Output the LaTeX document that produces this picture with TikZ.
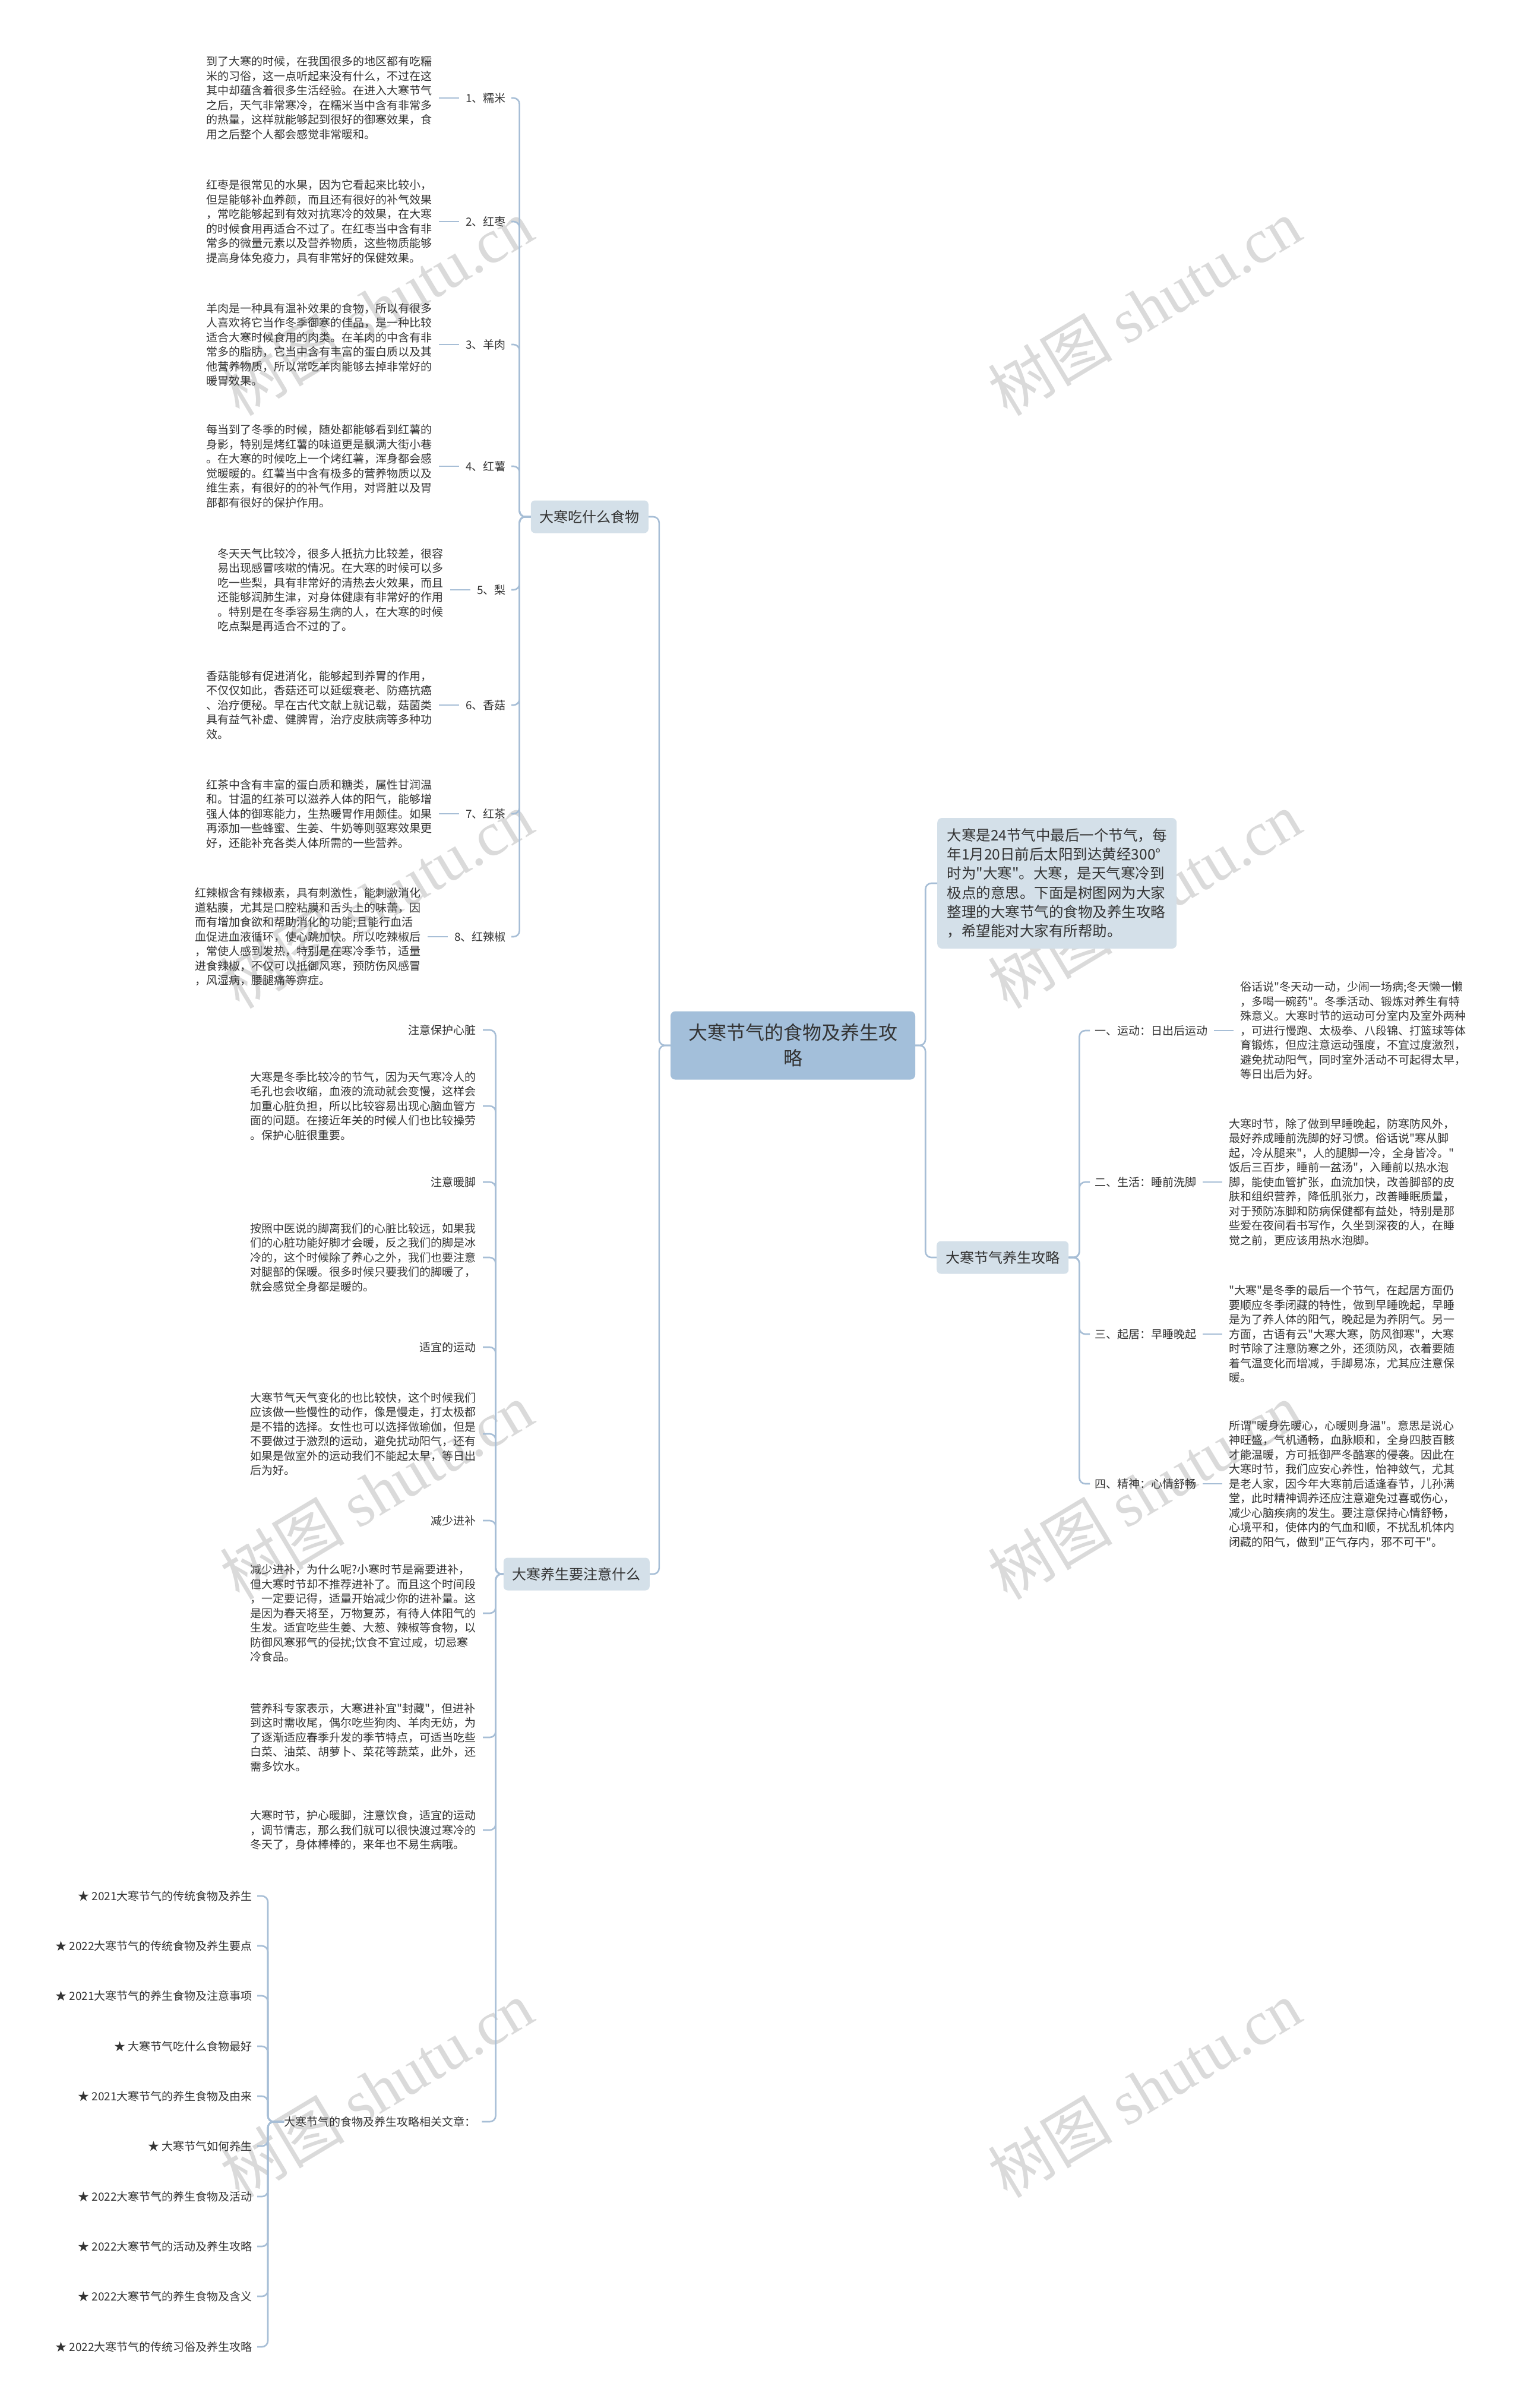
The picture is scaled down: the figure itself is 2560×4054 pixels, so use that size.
\documentclass[tikz,border=0pt]{standalone}
\usepackage{fontspec}
\setmainfont{Noto Sans CJK SC}[Ligatures=TeXOff]
\newfontfamily\wmlatin{Liberation Serif}
\usetikzlibrary{positioning}
\definecolor{linecol}{HTML}{A7BED6}
\definecolor{rootfill}{HTML}{A3BFDA}
\definecolor{boxfill}{HTML}{D4E0E9}
\definecolor{inkcol}{HTML}{333333}
\definecolor{wmcol}{HTML}{DADADA}

\begin{document}
\begin{tikzpicture}[x=1pt, y=-1pt,
    leaf/.style={inner sep=0pt, text=inkcol, align=left, font=\fontsize{19}{24.5}\selectfont},
    topic/.style={fill=boxfill, rounded corners=7pt, inner xsep=15pt, minimum height=55pt, text=inkcol, font=\fontsize{24}{30}\selectfont},
    link/.style={draw=linecol, line width=2.6pt, rounded corners=10pt},
    tie/.style={draw=linecol, line width=2.6pt, shorten <=11pt, shorten >=11pt},
    wm/.style={text=wmcol, rotate=31, font=\fontsize{105}{105}\selectfont}]
    % Page
    \fill[white] (0,0) rectangle (2560,4054);
    \useasboundingbox (0,0) rectangle (2560,4054);
    % Watermarks
    \node[wm] (wm1) at (634,517) {树图 {\wmlatin shutu.cn}};
    \node[wm] (wm2) at (1927,517) {树图 {\wmlatin shutu.cn}};
    \node[wm] (wm3) at (634,1515) {树图 {\wmlatin shutu.cn}};
    \node[wm] (wm4) at (1927,1515) {树图 {\wmlatin shutu.cn}};
    \node[wm] (wm5) at (634,2510) {树图 {\wmlatin shutu.cn}};
    \node[wm] (wm6) at (1927,2510) {树图 {\wmlatin shutu.cn}};
    \node[wm] (wm7) at (634,3517) {树图 {\wmlatin shutu.cn}};
    \node[wm] (wm8) at (1927,3517) {树图 {\wmlatin shutu.cn}};

    % Root
    \node[fill=rootfill, rounded corners=8pt, minimum width=412pt, minimum height=115pt, align=center, text=inkcol, font=\fontsize{32}{43}\selectfont] (root) at (1335,1760) {大寒节气的食物及养生攻\\略};

    % Intro
    \node[fill=boxfill, rounded corners=8pt, anchor=west, minimum width=403pt, minimum height=220pt, align=left, text=inkcol, font=\fontsize{24.5}{32.3}\selectfont] (intro) at (1578,1487) {大寒是24节气中最后一个节气，每\\年1月20日前后太阳到达黄经300°\\时为"大寒"。大寒，是天气寒冷到\\极点的意思。下面是树图网为大家\\整理的大寒节气的食物及养生攻略\\，希望能对大家有所帮助。};

    % Foods
    \node[topic, anchor=east] (food) at (1092,870) {大寒吃什么食物};
    \node[leaf, anchor=east] (f1) at (852,165) {1、糯米};
    \node[leaf, left=56pt of f1] (f1d) {到了大寒的时候，在我国很多的地区都有吃糯\\米的习俗，这一点听起来没有什么，不过在这\\其中却蕴含着很多生活经验。在进入大寒节气\\之后，天气非常寒冷，在糯米当中含有非常多\\的热量，这样就能够起到很好的御寒效果，食\\用之后整个人都会感觉非常暖和。};
    \node[leaf, anchor=east] (f2) at (852,373) {2、红枣};
    \node[leaf, left=56pt of f2] (f2d) {红枣是很常见的水果，因为它看起来比较小，\\但是能够补血养颜，而且还有很好的补气效果\\，常吃能够起到有效对抗寒冷的效果，在大寒\\的时候食用再适合不过了。在红枣当中含有非\\常多的微量元素以及营养物质，这些物质能够\\提高身体免疫力，具有非常好的保健效果。};
    \node[leaf, anchor=east] (f3) at (852,580) {3、羊肉};
    \node[leaf, left=56pt of f3] (f3d) {羊肉是一种具有温补效果的食物，所以有很多\\人喜欢将它当作冬季御寒的佳品，是一种比较\\适合大寒时候食用的肉类。在羊肉的中含有非\\常多的脂肪，它当中含有丰富的蛋白质以及其\\他营养物质，所以常吃羊肉能够去掉非常好的\\暖胃效果。};
    \node[leaf, anchor=east] (f4) at (852,785) {4、红薯};
    \node[leaf, left=56pt of f4] (f4d) {每当到了冬季的时候，随处都能够看到红薯的\\身影，特别是烤红薯的味道更是飘满大街小巷\\。在大寒的时候吃上一个烤红薯，浑身都会感\\觉暖暖的。红薯当中含有极多的营养物质以及\\维生素，有很好的的补气作用，对肾脏以及胃\\部都有很好的保护作用。};
    \node[leaf, anchor=east] (f5) at (852,993) {5、梨};
    \node[leaf, left=56pt of f5] (f5d) {冬天天气比较冷，很多人抵抗力比较差，很容\\易出现感冒咳嗽的情况。在大寒的时候可以多\\吃一些梨，具有非常好的清热去火效果，而且\\还能够润肺生津，对身体健康有非常好的作用\\。特别是在冬季容易生病的人，在大寒的时候\\吃点梨是再适合不过的了。};
    \node[leaf, anchor=east] (f6) at (852,1187) {6、香菇};
    \node[leaf, left=56pt of f6] (f6d) {香菇能够有促进消化，能够起到养胃的作用，\\不仅仅如此，香菇还可以延缓衰老、防癌抗癌\\、治疗便秘。早在古代文献上就记载，菇菌类\\具有益气补虚、健脾胃，治疗皮肤病等多种功\\效。};
    \node[leaf, anchor=east] (f7) at (852,1370) {7、红茶};
    \node[leaf, left=56pt of f7] (f7d) {红茶中含有丰富的蛋白质和糖类，属性甘润温\\和。甘温的红茶可以滋养人体的阳气，能够增\\强人体的御寒能力，生热暖胃作用颇佳。如果\\再添加一些蜂蜜、生姜、牛奶等则驱寒效果更\\好，还能补充各类人体所需的一些营养。};
    \node[leaf, anchor=east] (f8) at (852,1577) {8、红辣椒};
    \node[leaf, left=56pt of f8] (f8d) {红辣椒含有辣椒素，具有刺激性，能刺激消化\\道粘膜，尤其是口腔粘膜和舌头上的味蕾，因\\而有增加食欲和帮助消化的功能;且能行血活\\血促进血液循环，使心跳加快。所以吃辣椒后\\，常使人感到发热，特别是在寒冷季节，适量\\进食辣椒，不仅可以抵御风寒，预防伤风感冒\\，风湿病，腰腿痛等痹症。};

    % Cautions
    \node[topic, anchor=east] (attn) at (1094,2650) {大寒养生要注意什么};
    \node[leaf, anchor=east] (a1) at (802,1734) {注意保护心脏};
    \node[leaf, anchor=east] (a2) at (802,1862) {大寒是冬季比较冷的节气，因为天气寒冷人的\\毛孔也会收缩，血液的流动就会变慢，这样会\\加重心脏负担，所以比较容易出现心脑血管方\\面的问题。在接近年关的时候人们也比较操劳\\。保护心脏很重要。};
    \node[leaf, anchor=east] (a3) at (802,1990) {注意暖脚};
    \node[leaf, anchor=east] (a4) at (802,2117) {按照中医说的脚离我们的心脏比较远，如果我\\们的心脏功能好脚才会暖，反之我们的脚是冰\\冷的，这个时候除了养心之外，我们也要注意\\对腿部的保暖。很多时候只要我们的脚暖了，\\就会感觉全身都是暖的。};
    \node[leaf, anchor=east] (a5) at (802,2268) {适宜的运动};
    \node[leaf, anchor=east] (a6) at (802,2414) {大寒节气天气变化的也比较快，这个时候我们\\应该做一些慢性的动作，像是慢走，打太极都\\是不错的选择。女性也可以选择做瑜伽，但是\\不要做过于激烈的运动，避免扰动阳气，还有\\如果是做室外的运动我们不能起太早，等日出\\后为好。};
    \node[leaf, anchor=east] (a7) at (802,2560) {减少进补};
    \node[leaf, anchor=east] (a8) at (802,2716) {减少进补，为什么呢?小寒时节是需要进补，\\但大寒时节却不推荐进补了。而且这个时间段\\，一定要记得，适量开始减少你的进补量。这\\是因为春天将至，万物复苏，有待人体阳气的\\生发。适宜吃些生姜、大葱、辣椒等食物，以\\防御风寒邪气的侵扰;饮食不宜过咸，切忌寒\\冷食品。};
    \node[leaf, anchor=east] (a9) at (802,2925) {营养科专家表示，大寒进补宜"封藏"，但进补\\到这时需收尾，偶尔吃些狗肉、羊肉无妨，为\\了逐渐适应春季升发的季节特点，可适当吃些\\白菜、油菜、胡萝卜、菜花等蔬菜，此外，还\\需多饮水。};
    \node[leaf, anchor=east] (a10) at (802,3081) {大寒时节，护心暖脚，注意饮食，适宜的运动\\，调节情志，那么我们就可以很快渡过寒冷的\\冬天了，身体棒棒的，来年也不易生病哦。};

    % Related articles
    \node[leaf, anchor=west] (rel) at (478,3572) {大寒节气的食物及养生攻略相关文章：};
    \node[leaf, anchor=east] (r1) at (425,3192) {★ 2021大寒节气的传统食物及养生};
    \node[leaf, anchor=east] (r2) at (425,3276) {★ 2022大寒节气的传统食物及养生要点};
    \node[leaf, anchor=east] (r3) at (425,3360) {★ 2021大寒节气的养生食物及注意事项};
    \node[leaf, anchor=east] (r4) at (425,3445) {★ 大寒节气吃什么食物最好};
    \node[leaf, anchor=east] (r5) at (425,3529) {★ 2021大寒节气的养生食物及由来};
    \node[leaf, anchor=east] (r6) at (425,3613) {★ 大寒节气如何养生};
    \node[leaf, anchor=east] (r7) at (425,3698) {★ 2022大寒节气的养生食物及活动};
    \node[leaf, anchor=east] (r8) at (425,3782) {★ 2022大寒节气的活动及养生攻略};
    \node[leaf, anchor=east] (r9) at (425,3866) {★ 2022大寒节气的养生食物及含义};
    \node[leaf, anchor=east] (r10) at (425,3951) {★ 2022大寒节气的传统习俗及养生攻略};

    % Tips
    \node[topic, anchor=west] (tips) at (1577,2117) {大寒节气养生攻略};
    \node[leaf, anchor=west] (s1) at (1843,1735) {一、运动：日出后运动};
    \node[leaf, right=55pt of s1] (s1d) {俗话说"冬天动一动，少闹一场病;冬天懒一懒\\，多喝一碗药"。冬季活动、锻炼对养生有特\\殊意义。大寒时节的运动可分室内及室外两种\\，可进行慢跑、太极拳、八段锦、打篮球等体\\育锻炼，但应注意运动强度，不宜过度激烈，\\避免扰动阳气，同时室外活动不可起得太早，\\等日出后为好。};
    \node[leaf, anchor=west] (s2) at (1843,1990) {二、生活：睡前洗脚};
    \node[leaf, right=55pt of s2] (s2d) {大寒时节，除了做到早睡晚起，防寒防风外，\\最好养成睡前洗脚的好习惯。俗话说"寒从脚\\起，冷从腿来"，人的腿脚一冷，全身皆冷。"\\饭后三百步，睡前一盆汤"，入睡前以热水泡\\脚，能使血管扩张，血流加快，改善脚部的皮\\肤和组织营养，降低肌张力，改善睡眠质量，\\对于预防冻脚和防病保健都有益处，特别是那\\些爱在夜间看书写作，久坐到深夜的人，在睡\\觉之前，更应该用热水泡脚。};
    \node[leaf, anchor=west] (s3) at (1843,2246) {三、起居：早睡晚起};
    \node[leaf, right=55pt of s3] (s3d) {"大寒"是冬季的最后一个节气，在起居方面仍\\要顺应冬季闭藏的特性，做到早睡晚起，早睡\\是为了养人体的阳气，晚起是为养阴气。另一\\方面，古语有云"大寒大寒，防风御寒"，大寒\\时节除了注意防寒之外，还须防风，衣着要随\\着气温变化而增减，手脚易冻，尤其应注意保\\暖。};
    \node[leaf, anchor=west] (s4) at (1843,2498) {四、精神：心情舒畅};
    \node[leaf, right=55pt of s4] (s4d) {所谓"暖身先暖心，心暖则身温"。意思是说心\\神旺盛，气机通畅，血脉顺和，全身四肢百骸\\才能温暖，方可抵御严冬酷寒的侵袭。因此在\\大寒时节，我们应安心养性，怡神敛气，尤其\\是老人家，因今年大寒前后适逢春节，儿孙满\\堂，此时精神调养还应注意避免过喜或伤心，\\减少心脑疾病的发生。要注意保持心情舒畅，\\心境平和，使体内的气血和顺，不扰乱机体内\\闭藏的阳气，做到"正气存内，邪不可干"。};

    % Branches from root
    \draw[link] (root.west) -- ++(-19,0) |- (food.east);
    \draw[link] (root.west) -- ++(-19,0) |- (attn.east);
    \draw[link] (root.east) -- ++(17,0) |- (intro.west);
    \draw[link] (root.east) -- ++(17,0) |- (tips.west);
    % Food branches
    \foreach \i in {1,...,8} {
      \draw[link, shorten >=9pt] (food.west) -- ++(-19,0) |- (f\i.east);
      \draw[tie] (f\i d) -- (f\i);
    }
    % Caution branches
    \foreach \i in {1,...,10}
      \draw[link, shorten >=11pt] (attn.west) -- ++(-13,0) |- (a\i.east);
    \draw[link, shorten >=10pt] (attn.west) -- ++(-13,0) |- (rel.east);
    \foreach \i in {1,...,10}
      \draw[link, shorten >=8pt] (rel.west) -- ++(-27,0) |- (r\i.east);
    % Tip branches
    \foreach \i in {1,...,4} {
      \draw[link, shorten >=8pt] (tips.east) -- ++(18,0) |- (s\i.west);
      \draw[tie] (s\i) -- (s\i d);
    }
\end{tikzpicture}
\end{document}
